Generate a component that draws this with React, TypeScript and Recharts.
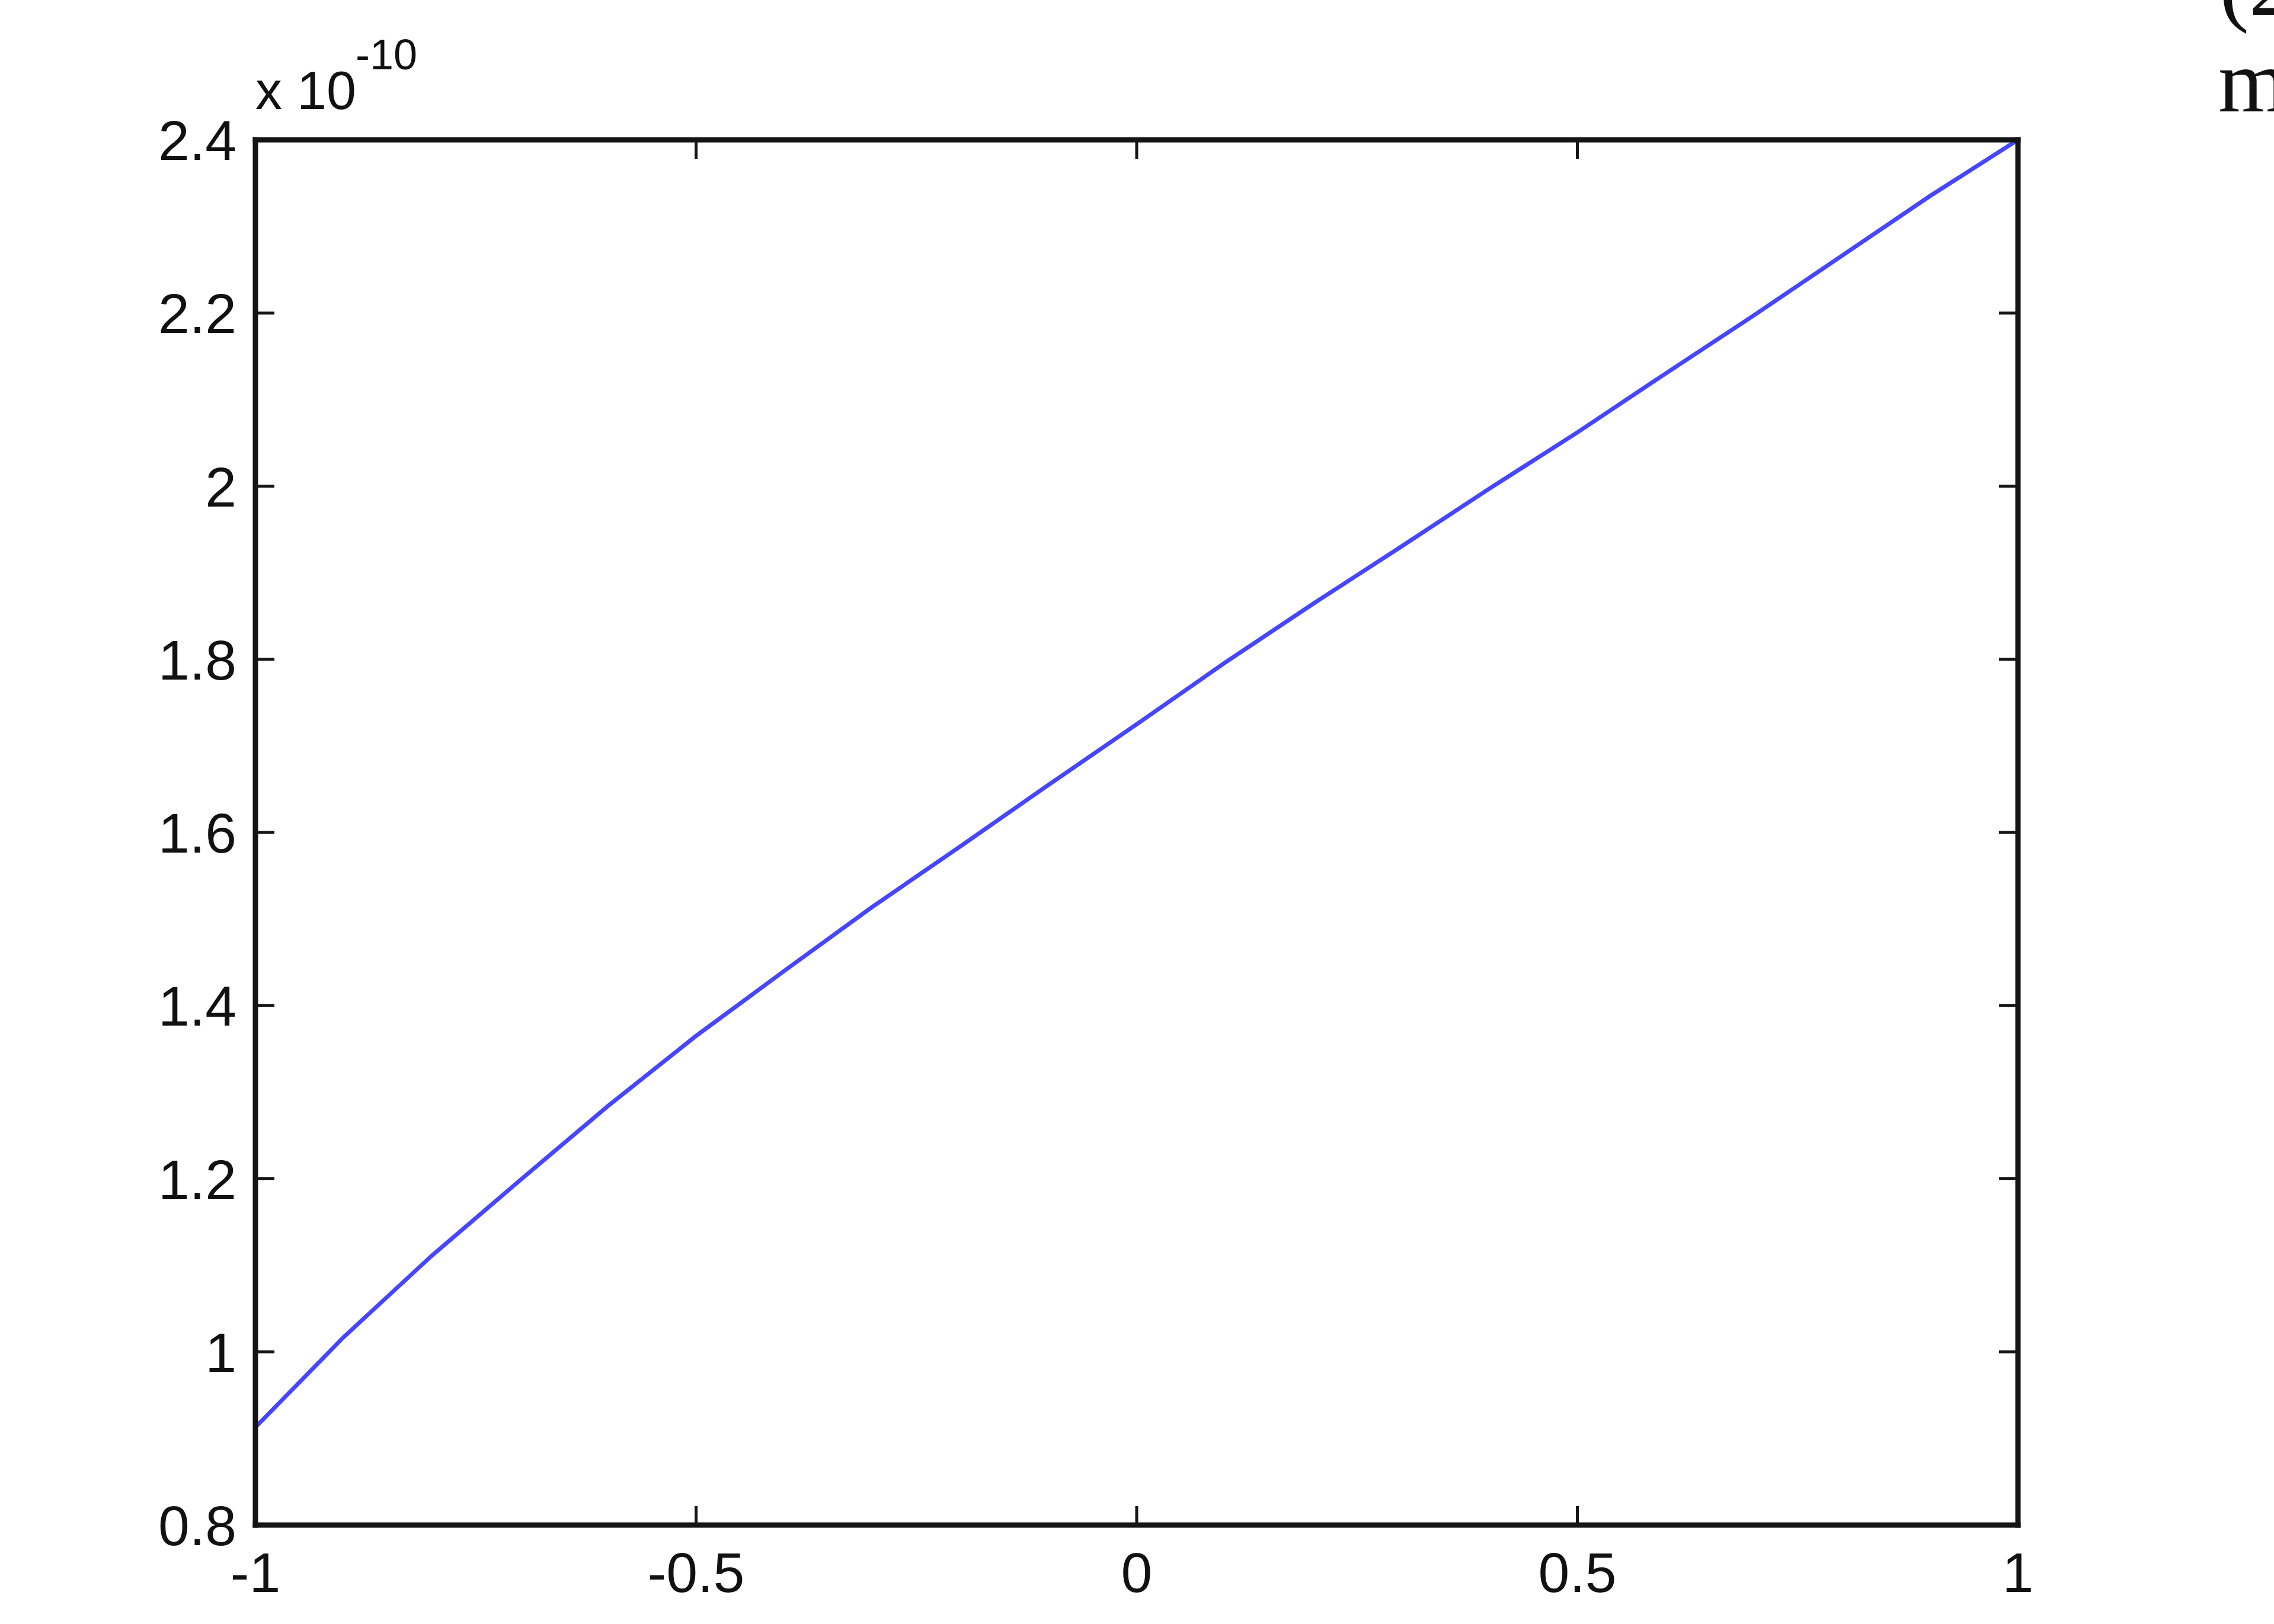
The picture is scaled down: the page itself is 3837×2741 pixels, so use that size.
import React from "react";
import { LineChart, Line, XAxis, YAxis } from "recharts";

// sample positions along the x axis
const xValues = [-1, -0.9, -0.8, -0.7, -0.6, -0.5, -0.4, -0.3, -0.2, -0.1, 0, 0.1, 0.2, 0.3, 0.4, 0.5, 0.6, 0.7, 0.8, 0.9, 1];
// curve values, in units of 1e-10
const yValues = [0.913, 1.017, 1.111, 1.198, 1.284, 1.365, 1.44, 1.514, 1.584, 1.655, 1.725, 1.796, 1.864, 1.93, 1.997, 2.062, 2.13, 2.197, 2.266, 2.335, 2.4];

const xTicks = [-1, -0.5, 0, 0.5, 1];
const xTickLabels = ["-1", "-0.5", "0", "0.5", "1"];
const yTicks = [0.8, 1, 1.2, 1.4, 1.6, 1.8, 2, 2.2, 2.4];
const yTickLabels = ["0.8", "1", "1.2", "1.4", "1.6", "1.8", "2", "2.2", "2.4"];

const data = xValues.map((x, i) => ({ x, y: yValues[i] }));

const W = 3837;
const H = 2741;
const TICK_LEN = 32;
const FONT = "'Liberation Sans', Arial, sans-serif";
const FONT_SIZE = 95;
const FRAME = "#151515";

const labelFor = (v: number, ticks: number[], labels: string[]) => {
  const i = ticks.findIndex((t) => Math.abs(t - v) < 1e-9);
  return i >= 0 ? labels[i] : String(v);
};

// inward ticks, matlab style
const makeTick = (side: "bottom" | "top" | "left" | "right") => (props: any) => {
  const { x, y, payload } = props;
  const v = payload.value;
  if (side === "bottom") {
    return (
      <g>
        <line x1={x} y1={y} x2={x} y2={y - TICK_LEN} stroke={FRAME} strokeWidth={5} />
        <text x={x} y={y + 113} textAnchor="middle" fontFamily={FONT} fontSize={FONT_SIZE} fill="#111">
          {labelFor(v, xTicks, xTickLabels)}
        </text>
      </g>
    );
  }
  if (side === "top") {
    return <line x1={x} y1={y} x2={x} y2={y + TICK_LEN} stroke={FRAME} strokeWidth={5} />;
  }
  if (side === "left") {
    return (
      <g>
        <line x1={x} y1={y} x2={x + TICK_LEN} y2={y} stroke={FRAME} strokeWidth={5} />
        <text x={x - 32} y={y + 34} textAnchor="end" fontFamily={FONT} fontSize={FONT_SIZE} fill="#111">
          {labelFor(v, yTicks, yTickLabels)}
        </text>
      </g>
    );
  }
  return <line x1={x} y1={y} x2={x - TICK_LEN} y2={y} stroke={FRAME} strokeWidth={5} />;
};

const axisLine = { stroke: FRAME, strokeWidth: 9, strokeLinecap: "square" as const };

export default function App() {
  return (
    <div style={{ position: "absolute", left: 0, top: 0, width: W, height: H, background: "#fff" }}>
      <LineChart width={W} height={H} data={data} margin={{ top: 235, right: 431, bottom: 17, left: 131 }}>
        <XAxis
          xAxisId="bottom"
          dataKey="x"
          type="number"
          domain={[-1, 1]}
          ticks={xTicks}
          height={150}
          tickSize={0}
          tickMargin={0}
          tickLine={false}
          axisLine={axisLine}
          tick={makeTick("bottom")}
          interval={0}
        />
        <XAxis
          xAxisId="top"
          orientation="top"
          dataKey="x"
          type="number"
          domain={[-1, 1]}
          allowDataOverflow
          ticks={xTicks}
          height={1}
          tickSize={0}
          tickMargin={0}
          tickLine={false}
          axisLine={axisLine}
          tick={makeTick("top")}
          interval={0}
        />
        <YAxis
          yAxisId="left"
          type="number"
          domain={[0.8, 2.4]}
          ticks={yTicks}
          width={300}
          tickSize={0}
          tickMargin={0}
          tickLine={false}
          axisLine={axisLine}
          tick={makeTick("left")}
          interval={0}
        />
        <YAxis
          yAxisId="right"
          orientation="right"
          type="number"
          domain={[0.8, 2.4]}
          allowDataOverflow
          ticks={yTicks}
          width={1}
          tickSize={0}
          tickMargin={0}
          tickLine={false}
          axisLine={axisLine}
          tick={makeTick("right")}
          interval={0}
        />
        {/* invisible copy that ties the mirrored top/right axes to the data */}
        <Line
          xAxisId="top"
          yAxisId="right"
          type="linear"
          dataKey="y"
          stroke="none"
          strokeWidth={0}
          dot={false}
          activeDot={false}
          legendType="none"
          isAnimationActive={false}
        />
        <Line
          xAxisId="bottom"
          yAxisId="left"
          type="linear"
          dataKey="y"
          stroke="#4646ff"
          strokeWidth={7}
          dot={false}
          isAnimationActive={false}
        />
      </LineChart>
      <svg width={W} height={H} style={{ position: "absolute", left: 0, top: 0, pointerEvents: "none" }}>
        <text x={431} y={184} fontFamily={FONT} fontSize={90} fill="#111">
          x 10
        </text>
        <text x={600} y={117} fontFamily={FONT} fontSize={72} fill="#111">
          -10
        </text>
        <text x={3745} y={25} fontFamily="'Liberation Serif', 'Times New Roman', serif" fontSize={150} fill="#111">
          (2
        </text>
        <text x={3743} y={188} fontFamily="'Liberation Serif', 'Times New Roman', serif" fontSize={150} fill="#111">
          m
        </text>
      </svg>
    </div>
  );
}
